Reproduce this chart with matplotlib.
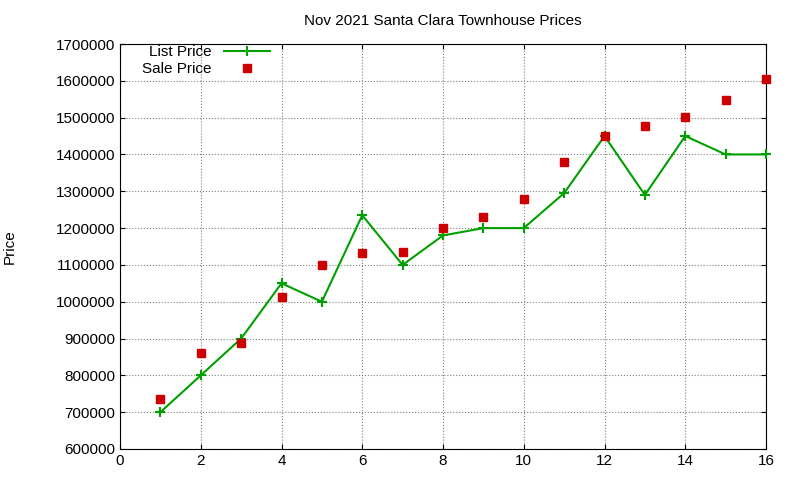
import matplotlib
matplotlib.use("Agg")
import matplotlib.pyplot as plt

x = list(range(1, 17))
list_price = [700000, 800000, 900000, 1050000, 1000000, 1235000, 1100000, 1180000,
              1200000, 1200000, 1295000, 1450000, 1290000, 1450000, 1400000, 1400000]
sale_price = [737000, 860000, 887000, 1012000, 1100000, 1132000, 1135000, 1200000,
              1230000, 1280000, 1380000, 1450000, 1477000, 1502000, 1548000, 1605000]
title = "Nov 2021 Santa Clara Townhouse Prices"

plt.rcParams['font.family'] = ['Liberation Sans', 'DejaVu Sans']
fig = plt.figure(figsize=(8, 4.8), dpi=100)
ax = fig.add_axes([120/800, 1-449/480, 646/800, 405/480])
ax.plot(x, list_price, color='#00a000', marker='+', markersize=7, mew=1.5, lw=1.5,
        label='List Price', clip_on=False, zorder=3)
ax.plot(x, sale_price, ls='none', marker='s', color='#cc0000', markersize=5.5,
        label='Sale Price', clip_on=False, zorder=3)
ax.set_xlim(0, 16)
ax.set_ylim(600000, 1700000)
ax.set_xticks(range(0, 17, 2))
ax.set_yticks(range(600000, 1700001, 100000))
ax.ticklabel_format(style='plain', axis='y')
ax.tick_params(direction='in', labelsize=11, top=True, right=True)
ax.grid(True, color='#808080', ls=':', lw=0.8)
ax.set_ylabel('Price', fontsize=11)
ax.yaxis.set_label_coords(-0.16, 0.5)
ax.set_title(title, fontsize=11, pad=14)
leg = ax.legend(loc='upper left', frameon=False, fontsize=11, markerfirst=False,
                bbox_to_anchor=(0.02, 1.02), handlelength=3, borderaxespad=0.2,
                labelspacing=0.2)
fig.savefig('out.png')
